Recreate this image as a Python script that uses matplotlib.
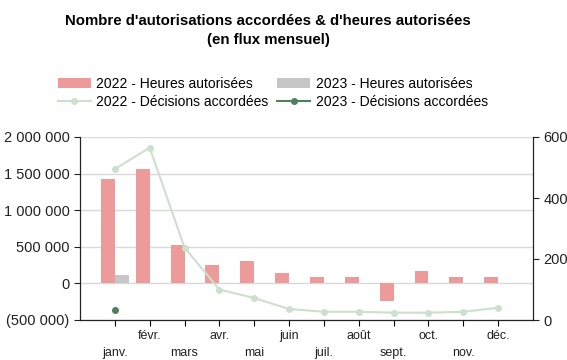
import numpy as np
import matplotlib.pyplot as plt
from matplotlib.ticker import FuncFormatter

plt.rcParams['font.family'] = ['Liberation Sans', 'DejaVu Sans']

# Données
mois = ['janv.', 'févr.', 'mars', 'avr.', 'mai', 'juin',
        'juil.', 'août', 'sept.', 'oct.', 'nov.', 'déc.']
heures_2022 = [1420000, 1560000, 530000, 250000, 300000, 140000,
               90000, 90000, -240000, 175000, 90000, 90000]
heures_2023 = [110000]
decisions_2022 = [495, 565, 237, 100, 72, 36, 27, 27, 24, 24, 27, 40]
decisions_2023 = [33]

c_2022_bar = '#ec9a9a'
c_2023_bar = '#c6c6c6'
c_2022_line = '#cde0cd'
c_2023_line = '#4f7f5c'

x = np.arange(len(mois))

fig = plt.figure(figsize=(5.67, 3.60), dpi=100)
ax = fig.add_axes([80 / 567, 1 - 320 / 360, 453 / 567, 183 / 360])
ax2 = ax.twinx()

# Barres
w = 0.4
b1 = ax.bar(x - w / 2, heures_2022, width=w, color=c_2022_bar, zorder=2,
            label='2022 - Heures autorisées')
b2 = ax.bar(x[:len(heures_2023)] + w / 2, heures_2023, width=w,
            color=c_2023_bar, zorder=2, label='2023 - Heures autorisées')

# Lignes
l1, = ax2.plot(x, decisions_2022, color=c_2022_line, lw=1.5, marker='o',
               ms=4, label='2022 - Décisions accordées')
l2, = ax2.plot(x[:len(decisions_2023)], decisions_2023, color=c_2023_line,
               lw=1.5, marker='o', ms=4, label='2023 - Décisions accordées')

ax.set_xlim(-1, 12)
ax.set_ylim(-500000, 2000000)
ax2.set_ylim(0, 600)

def fmt(v, pos):
    s = f'{abs(int(v)):,}'.replace(',', ' ')
    return f'({s})' if v < 0 else s

ax.set_yticks(np.arange(-500000, 2000001, 500000))
ax.yaxis.set_major_formatter(FuncFormatter(fmt))
ax2.set_yticks([0, 200, 400, 600])

ax.grid(axis='y', color='#d9d9d9', lw=1, zorder=0)
ax.set_axisbelow(True)

ax.set_xticks(x)
ax.set_xticklabels([('\n' + m) if i % 2 == 0 else m for i, m in enumerate(mois)],
                   fontsize=9, linespacing=1.6, color='#222222')
ax.tick_params(axis='y', labelsize=10.5, length=4, colors='#222222')
ax.tick_params(axis='x', length=4, pad=3)
ax2.tick_params(axis='y', labelsize=10.5, length=4, colors='#222222')

for a in (ax, ax2):
    a.spines['top'].set_visible(False)
    for s in ('left', 'right', 'bottom'):
        a.spines[s].set_color('#222222')

fig.suptitle("Nombre d'autorisations accordées & d'heures autorisées\n(en flux mensuel)",
             x=268 / 567, y=0.96, fontsize=10.8, fontweight='bold', linespacing=1.4)

fig.legend([b1, l1, b2, l2],
           [b1.get_label(), l1.get_label(), b2.get_label(), l2.get_label()],
           ncol=2, loc='upper left', bbox_to_anchor=(45 / 567, 1 - 64 / 360),
           frameon=False, fontsize=10, handlelength=2.4, handletextpad=0.4,
           columnspacing=0.6, labelspacing=0.3)

fig.savefig('out.png', dpi=100)
